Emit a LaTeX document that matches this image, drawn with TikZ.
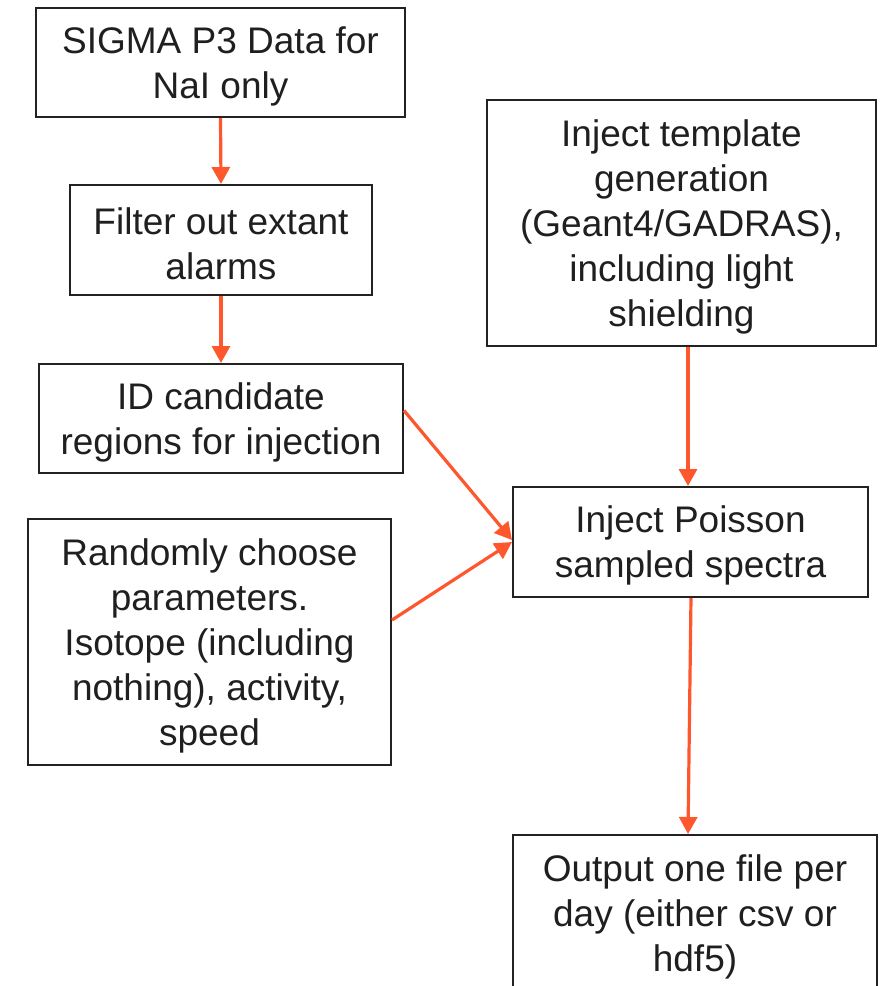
\documentclass[tikz,border=0pt]{standalone}
\usepackage{fontspec}
\setmainfont{Liberation Sans}
\usetikzlibrary{arrows.meta}
\definecolor{arr}{RGB}{255,87,45}
\definecolor{edge}{RGB}{34,34,34}
\begin{document}
\begin{tikzpicture}[x=1pt,y=-1pt,
  box/.style={draw=edge,line width=2pt,rectangle,inner sep=0pt},
  lbl/.style={inner sep=0pt,align=center,font=\fontsize{37}{45}\selectfont,text=black!88},
  conn/.style={draw=arr,line width=3.2pt,-{Triangle[length=17pt,width=18pt]}}]
\useasboundingbox (0,0) rectangle (887,986);
\begin{scope}
\clip (0,0) rectangle (887,986);
\node[box,minimum width=369pt,minimum height=109pt] (n1) at (220.5,62.5) {};
\node[box,minimum width=302pt,minimum height=110pt] (n2) at (221,240) {};
\node[box,minimum width=364pt,minimum height=109pt] (n3) at (221,418.5) {};
\node[box,minimum width=363pt,minimum height=246pt] (n4) at (209.5,642) {};
\node[box,minimum width=389pt,minimum height=246pt] (n5) at (681.5,223) {};
\node[box,minimum width=355pt,minimum height=110pt] (n6) at (690.5,542) {};
\node[box,minimum width=364pt,minimum height=156pt] (n7) at (695,913) {};
\node[lbl] (t1) at ([yshift=-3.5pt]n1.center) {SIGMA P3 Data for\\NaI only};
\node[lbl] (t2) at ([yshift=-3.5pt]n2.center) {Filter out extant\\alarms};
\node[lbl] (t3) at ([yshift=-3.5pt]n3.center) {ID candidate\\regions for injection};
\node[lbl] (t4) at ([yshift=-3.5pt]n4.center) {Randomly choose\\parameters.\\Isotope (including\\nothing), activity,\\speed};
\node[lbl] (t5) at ([yshift=-3.5pt]n5.center) {Inject template\\generation\\(Geant4/GADRAS),\\including light\\shielding};
\node[lbl] (t6) at ([yshift=-3.5pt]n6.center) {Inject Poisson\\sampled spectra};
\node[lbl] (t7) at ([yshift=-3.5pt]n7.center) {Output one file per\\day (either csv or\\hdf5)};
\end{scope}
\draw[conn] (n1.south) -- (n2.north);
\draw[conn] (n2.south) -- (n3.north);
\draw[conn] ([yshift=8pt]n3.east) -- ([yshift=2pt]n6.west);
\draw[conn] ([yshift=22pt]n4.east) -- (n6.west);
\draw[conn] ([xshift=6.5pt]n5.south) -- ([xshift=-2.5pt]n6.north);
\draw[conn] ([xshift=0.5pt]n6.south) -- ([xshift=-7pt]n7.north);
\end{tikzpicture}
\end{document}
